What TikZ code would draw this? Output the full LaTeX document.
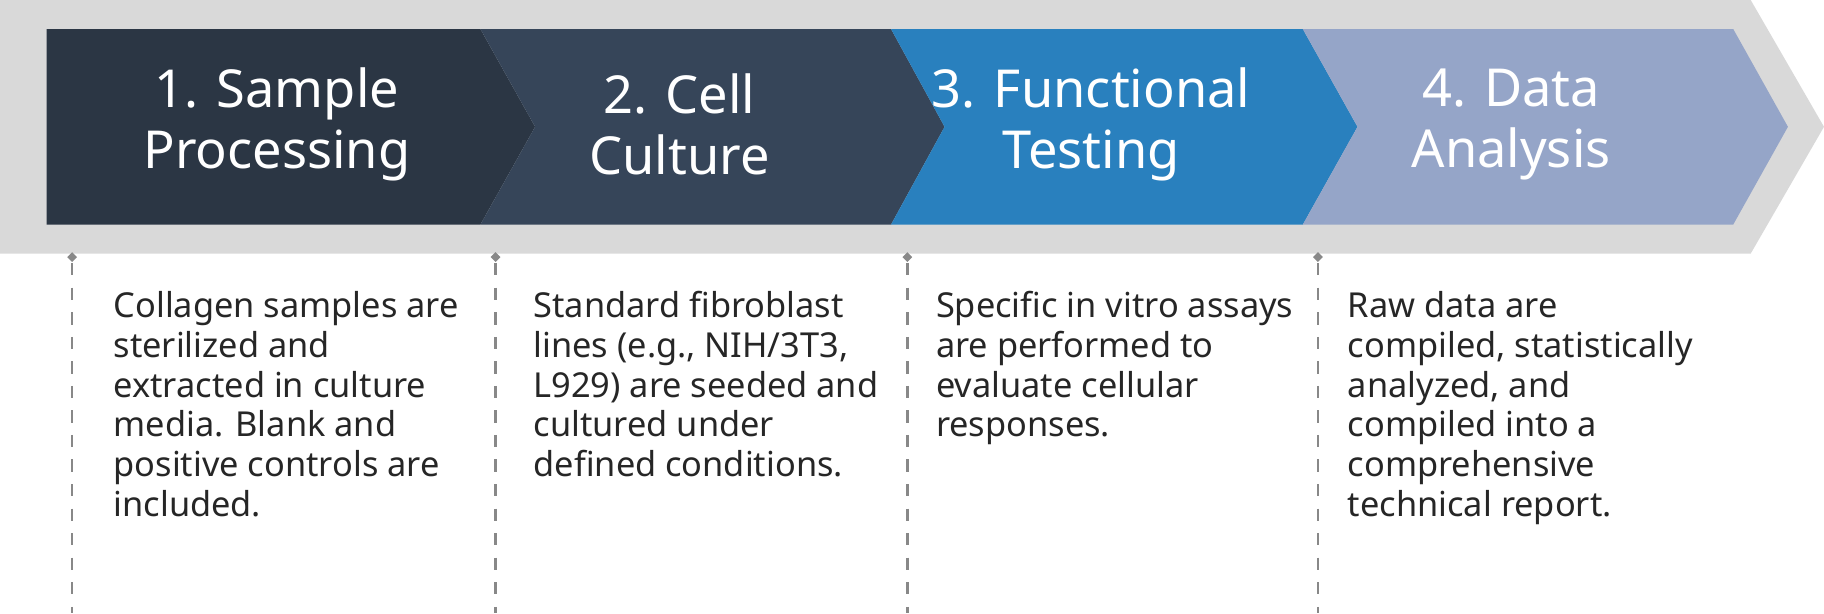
\documentclass[tikz,border=0pt]{standalone}
\usepackage{fontspec}
\setmainfont{Noto Sans}
\usetikzlibrary{shapes.geometric}
\definecolor{cA}{HTML}{2B3644}
\definecolor{cB}{HTML}{364559}
\definecolor{cC}{HTML}{2980BE}
\definecolor{cD}{HTML}{95A5C8}
\definecolor{bg}{HTML}{D9D9D9}
\definecolor{dl}{HTML}{888888}
\tikzset{
 ttl/.style={text=white,font=\fontsize{12.8}{14.8}\selectfont\bfseries,align=center},
 body/.style={anchor=north west,inner sep=0pt,align=left,font=\fontsize{8.4}{9.7}\selectfont,text=black!85},
 dline/.style={draw=dl,dashed,line width=0.6pt},
 dmd/.style={diamond,fill=dl,inner sep=0pt,minimum size=0.09cm}
}
\begin{document}
\begin{tikzpicture}[x=0.01cm,y=-0.01cm]
\useasboundingbox (0,0) rectangle (1568,527);
\fill[bg] (0,0) -- (1505,0) -- (1568,109) -- (1505,218) -- (0,218) -- cycle;
\fill[cA] (40,25) -- (413,25) -- (460,109) -- (413,193) -- (40,193) -- cycle;
\fill[cB] (413,25) -- (766,25) -- (812,109) -- (766,193) -- (413,193) -- (460,109) -- cycle;
\fill[cC] (766,25) -- (1120,25) -- (1167,109) -- (1120,193) -- (766,193) -- (812,109) -- cycle;
\fill[cD] (1120,25) -- (1490,25) -- (1537,109) -- (1490,193) -- (1120,193) -- (1167,109) -- cycle;
\node[ttl] (t1) at (238,107) {1. Sample\\Processing};
\node[ttl] (t2) at (584,107) {2. Cell\\Culture};
\node[ttl] (t3) at (938,107) {3. Functional\\Testing};
\node[ttl] (t4) at (1299,107) {4. Data\\Analysis};
\foreach \x/\n in {62/a,426/b,780/c,1133/d}{
 \node[dmd] (m\n) at (\x,221) {};
 \coordinate (e\n) at (\x,527);
 \draw[dline] (m\n) -- (e\n);
}
\node[body] (b1) at (97,250) {Collagen samples are\\sterilized and\\extracted in culture\\media. Blank and\\positive controls are\\included.};
\node[body] (b2) at (458,250) {Standard fibroblast\\lines (e.g., NIH/3T3,\\L929) are seeded and\\cultured under\\defined conditions.};
\node[body] (b3) at (804,250) {Specific in vitro assays\\are performed to\\evaluate cellular\\responses.};
\node[body] (b4) at (1158,250) {Raw data are\\compiled, statistically\\analyzed, and\\compiled into a\\comprehensive\\technical report.};
\end{tikzpicture}
\end{document}
